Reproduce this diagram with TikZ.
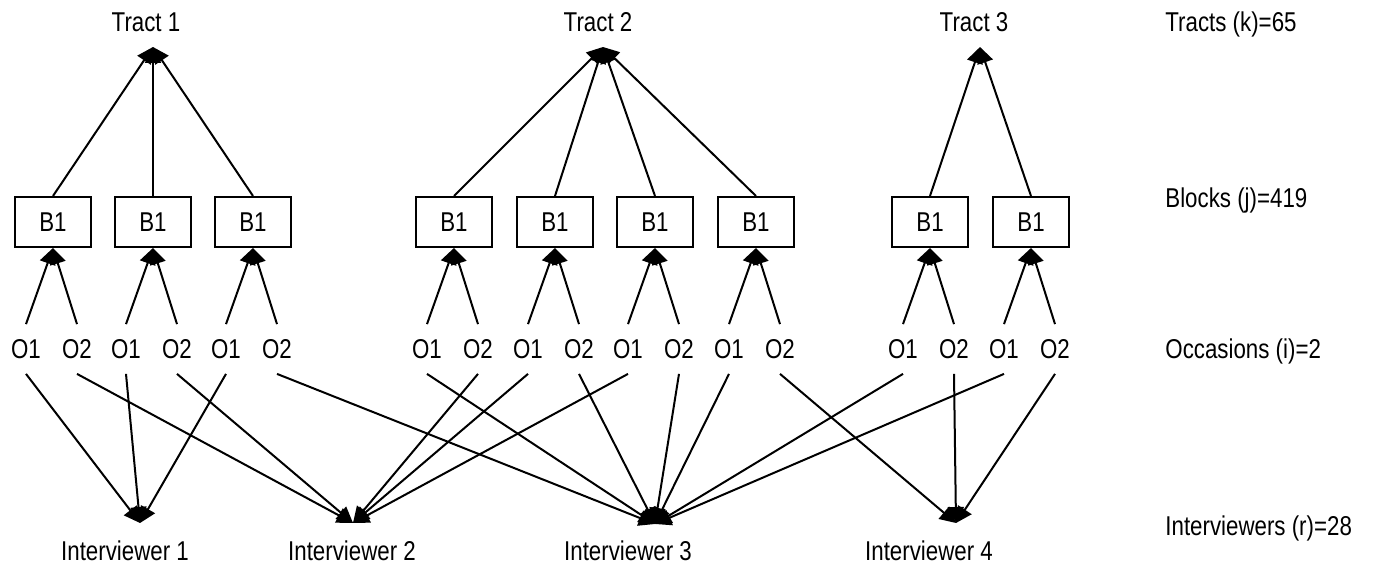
\documentclass[tikz,border=0pt]{standalone}
\usepackage{fontspec}
\setmainfont[FakeStretch=0.82]{Liberation Sans}
\usetikzlibrary{arrows.meta}
\tikzset{
  lbl/.style={font=\fontsize{13.6pt}{15pt}\selectfont, inner sep=0pt},
  blk/.style={draw, line width=1pt, minimum width=38pt, minimum height=25pt, inner sep=0pt, font=\fontsize{13.6pt}{15pt}\selectfont},
  occ/.style={inner sep=0pt, minimum height=24.5pt, font=\fontsize{13.6pt}{15pt}\selectfont},
  arr/.style={line width=1pt, -{Triangle[length=8pt,width=8pt]}},
}
\begin{document}
\begin{tikzpicture}[x=0.5pt,y=-0.5pt]
\useasboundingbox (0,0) rectangle (1375,572);
% tract tips
\coordinate (t1) at (153,47);
\coordinate (t2) at (603,47);
\coordinate (t3) at (980,47);
% interviewer tips
\coordinate (i1) at (140,523);
\coordinate (i2) at (353,523);
\coordinate (i3) at (655,524);
\coordinate (i4) at (956,523);
% tract labels
\node[lbl, anchor=base] (T1) at (146,32) {Tract 1};
\node[lbl, anchor=base] (T2) at (598,32) {Tract 2};
\node[lbl, anchor=base] (T3) at (974,32) {Tract 3};
% interviewer labels
\node[lbl, anchor=base] (I1) at (125,560) {Interviewer 1};
\node[lbl, anchor=base] (I2) at (352,560) {Interviewer 2};
\node[lbl, anchor=base] (I3) at (628,560) {Interviewer 3};
\node[lbl, anchor=base] (I4) at (929,560) {Interviewer 4};
% level labels
\node[lbl, anchor=base west] (L1) at (1165,32) {Tracts (k)=65};
\node[lbl, anchor=base west] (L2) at (1165,208) {Blocks (j)=419};
\node[lbl, anchor=base west] (L3) at (1165,358) {Occasions (i)=2};
\node[lbl, anchor=base west] (L4) at (1165,535) {Interviewers (r)=28};
% blocks and occasions
\foreach \n/\x in {a1/53,a2/153,a3/253,b1/454,b2/555,b3/655,b4/756,c1/930,c2/1031} {
  \node[blk] (\n) at (\x,222) {B1};
  \node[occ] (oa\n) at (\x-27,349) {O1};
  \node[occ] (ob\n) at (\x+24,349) {O2};
  \draw[arr] (oa\n.north) -- (\n.south);
  \draw[arr] (ob\n.north) -- (\n.south);
}
% blocks to tracts
\foreach \n/\t in {a1/t1,a2/t1,a3/t1,b1/t2,b2/t2,b3/t2,b4/t2,c1/t3,c2/t3}
  \draw[arr] (\n.north) -- (\t);
% occasions to interviewers
\foreach \o/\i in {oaa1/i1,oba1/i2,oaa2/i1,oba2/i2,oaa3/i1,oba3/i3,
                   oab1/i3,obb1/i2,oab2/i2,obb2/i3,oab3/i2,obb3/i3,oab4/i3,obb4/i4,
                   oac1/i3,obc1/i4,oac2/i3,obc2/i4}
  \draw[arr] (\o.south) -- (\i);
\end{tikzpicture}
\end{document}
